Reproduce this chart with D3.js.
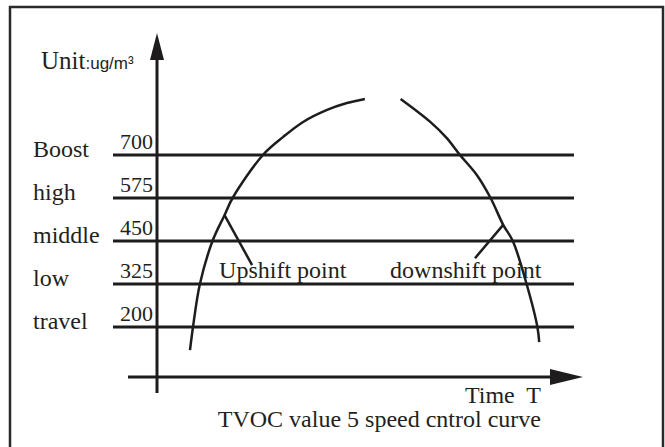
<!DOCTYPE html>
<html>
<head>
<meta charset="utf-8">
<script src="https://cdn.jsdelivr.net/npm/d3@7"></script>
<style>
  body { margin: 0; background: #fff; }
  svg text { font-family: "Liberation Serif", "Times New Roman", "DejaVu Serif", serif; fill: #231f20; }
</style>
</head>
<body>
<svg id="chart"></svg>
<script>
// speed levels and their TVOC thresholds (ug/m3)
const levels = ["Boost", "high", "middle", "low", "travel"];
const thresholds = [700, 575, 450, 325, 200];

// rising part of the curve (time units, TVOC value)
const upTime = [11, 12, 14.3, 18.5, 22.5, 25.2, 35.3, 42, 48.7, 56.7, 63.3, 69.3];
const upValue = [133, 200, 325, 450, 525, 575, 700, 752, 796, 831, 851, 863];

// falling part of the curve
const downTime = [81.2, 91, 96.6, 101, 106.6, 111.2, 115.4, 118.6, 123.2, 126.8, 127.4];
const downValue = [863, 797, 749, 700, 642, 575, 497, 450, 325, 200, 156];

// pointer lines for the two labels: [on curve, at label]
const upshiftTime = [22.5, 31.7];
const upshiftValue = [525, 380];
const downshiftTime = [115.4, 106];
const downshiftValue = [497, 400];

const width = 665, height = 447;

const svg = d3.select("#chart")
    .attr("width", width)
    .attr("height", height);

const x = d3.scaleLinear().domain([0, 140]).range([157, 577]);
const y = d3.scaleLinear().domain([200, 700]).range([327, 155]);

const ink = "#1f1c1d";
const serif = "'Liberation Serif', 'Times New Roman', serif";

// frame
svg.append("path")
    .attr("d", `M10,${height + 5}V7H663V${height + 5}`)
    .attr("fill", "none")
    .attr("stroke", "#2a2a2a")
    .attr("stroke-width", 2.5);

// threshold lines
svg.selectAll("line.level")
    .data(thresholds)
    .enter()
    .append("line")
    .attr("class", "level")
    .attr("x1", x(0) - 44)
    .attr("x2", 574)
    .attr("y1", d => y(d))
    .attr("y2", d => y(d))
    .attr("stroke", ink)
    .attr("stroke-width", 3);

// axes with arrowheads
const ax = x(0), axisY = 377;
svg.append("line")
    .attr("x1", ax).attr("x2", ax)
    .attr("y1", 393).attr("y2", 50)
    .attr("stroke", ink).attr("stroke-width", 3);
svg.append("path")
    .attr("d", `M${ax},33L${ax - 7},60L${ax + 7},60Z`)
    .attr("fill", ink);

svg.append("line")
    .attr("x1", 128).attr("x2", 560)
    .attr("y1", axisY).attr("y2", axisY)
    .attr("stroke", ink).attr("stroke-width", 3);
svg.append("path")
    .attr("d", `M583,${axisY}L550,${axisY - 8}L550,${axisY + 8}Z`)
    .attr("fill", ink);

// level names and values
svg.selectAll("text.level")
    .data(levels)
    .enter()
    .append("text")
    .attr("class", "level")
    .attr("x", 33)
    .attr("y", (d, i) => y(thresholds[i]) + 2)
    .attr("font-family", serif)
    .attr("font-size", 24)
    .text(d => d);

svg.selectAll("text.value")
    .data(thresholds)
    .enter()
    .append("text")
    .attr("class", "value")
    .attr("x", ax - 4)
    .attr("y", d => y(d) - 6)
    .attr("text-anchor", "end")
    .attr("font-family", serif)
    .attr("font-size", 22)
    .text(d => d);

// curve
const line = d3.line()
    .x(d => x(d[0]))
    .y(d => y(d[1]))
    .curve(d3.curveCatmullRom);

svg.append("path")
    .attr("d", line(d3.zip(upTime, upValue)))
    .attr("fill", "none")
    .attr("stroke", ink)
    .attr("stroke-width", 2.5);

svg.append("path")
    .attr("d", line(d3.zip(downTime, downValue)))
    .attr("fill", "none")
    .attr("stroke", ink)
    .attr("stroke-width", 2.5);

// pointers
const straight = d3.line().x(d => x(d[0])).y(d => y(d[1]));
[[upshiftTime, upshiftValue], [downshiftTime, downshiftValue]].forEach(p => {
    svg.append("path")
        .attr("d", straight(d3.zip(p[0], p[1])))
        .attr("fill", "none")
        .attr("stroke", ink)
        .attr("stroke-width", 2.5);
});

svg.append("text")
    .attr("x", x(20.7))
    .attr("y", 278)
    .attr("font-family", serif)
    .attr("font-size", 24)
    .text("Upshift point");

svg.append("text")
    .attr("x", x(77.7))
    .attr("y", 278)
    .attr("font-family", serif)
    .attr("font-size", 24)
    .text("downshift point");

// unit label
const unit = svg.append("text")
    .attr("x", 41)
    .attr("y", 69)
    .attr("font-family", serif);
unit.append("tspan")
    .attr("font-size", 25)
    .text("Unit");
unit.append("tspan")
    .attr("font-family", "'Liberation Sans', Arial, sans-serif")
    .attr("font-size", 17)
    .text(":ug/m³");

// axis caption and title
svg.append("text")
    .attr("x", 541)
    .attr("y", 403)
    .attr("text-anchor", "end")
    .attr("font-family", serif)
    .attr("font-size", 24)
    .attr("xml:space", "preserve")
    .style("white-space", "pre")
    .text("Time  T");

svg.append("text")
    .attr("x", 541)
    .attr("y", 427)
    .attr("text-anchor", "end")
    .attr("font-family", serif)
    .attr("font-size", 24)
    .text("TVOC value 5 speed cntrol curve");
</script>
</body>
</html>
